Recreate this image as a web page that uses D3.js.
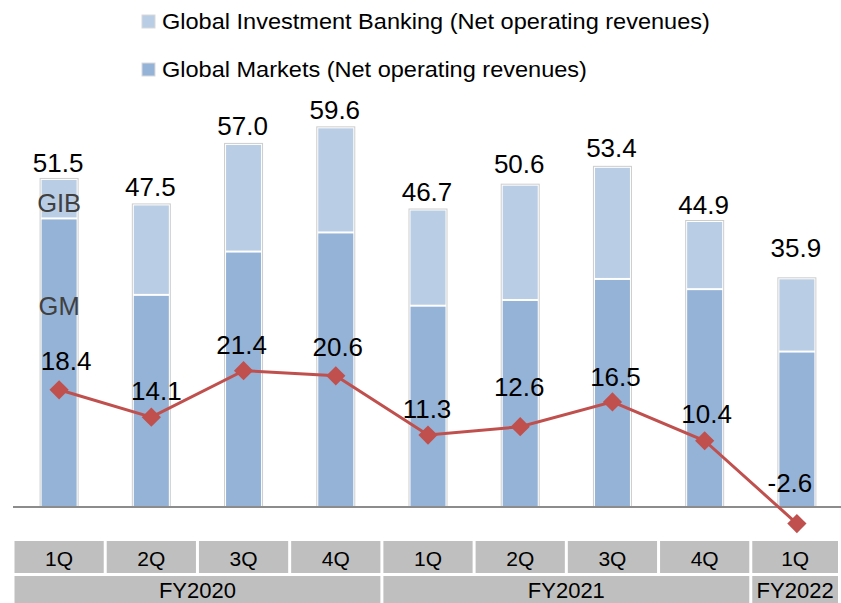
<!DOCTYPE html>
<html>
<head>
<meta charset="utf-8">
<script src="https://cdn.jsdelivr.net/npm/d3@7/dist/d3.min.js"></script>
<style>
	body { margin: 0; background: #fff; }
	svg { display: block; font-family: "Liberation Sans", Arial, sans-serif; }
</style>
</head>
<body>
<svg id="chart"></svg>
<script>
// Chart data.
var quarters = ["1Q", "2Q", "3Q", "4Q", "1Q", "2Q", "3Q", "4Q", "1Q"];
var fiscalYears = [{"label" : "FY2020", "from" : 0, "to" : 3},
	{"label" : "FY2021", "from" : 4, "to" : 7},
	{"label" : "FY2022", "from" : 8, "to" : 8}];
var totalRevenues = [51.5, 47.5, 57.0, 59.6, 46.7, 50.6, 53.4, 44.9, 35.9];
var gmRevenues = [45.3, 33.3, 40.1, 43.1, 31.6, 32.5, 35.8, 34.2, 24.4];
var lineValues = [18.4, 14.1, 21.4, 20.6, 11.3, 12.6, 16.5, 10.4, -2.6];
var legendLabels = ["Global Investment Banking (Net operating revenues)",
	"Global Markets (Net operating revenues)"];

// Hand placed label nudges (the original labels are not all at the same offset).
var totalLabelDy = [-7, -8, -9, -8, -9, -12, -10, -7, -21];
var lineLabelDx = [7, 5, -2, 2, -1, -1, 3, 2, -7];
var lineLabelDy = [-20, -17, -17, -20, -17, -31, -16, -18, -32];

// Definitions.
var width = 841;
var height = 603;
var barWidth = 38;
var colorGib = "#b9cde5";
var colorGm = "#95b3d7";
var colorLine = "#c0504d";
var colorCell = "#bfbfbf";

var svg = d3.select("#chart")
	.attr("width", width)
	.attr("height", height);

var x = d3.scaleBand()
	.domain(d3.range(quarters.length))
	.range([13, 843])
	.padding(0);
var y = d3.scaleLinear()
	.domain([0, 60])
	.range([507, 507 - 60 * 6.37]);
var cx = function(i) { return x(i) + x.bandwidth() / 2; };

// Stacked bars.
var bars = svg.append("g").selectAll("g")
	.data(d3.range(quarters.length))
	.enter()
	.append("g");
bars.append("rect")
	.attr("x", function(i) { return cx(i) - barWidth / 2; })
	.attr("y", function(i) { return y(totalRevenues[i]) - 0.5; })
	.attr("width", barWidth)
	.attr("height", function(i) { return y(0) - y(totalRevenues[i]) + 0.5; })
	.attr("fill", "#fff")
	.attr("stroke", "#cdcdcd")
	.attr("stroke-width", 1);
bars.append("rect")
	.attr("x", function(i) { return cx(i) - barWidth / 2 + 1.5; })
	.attr("y", function(i) { return y(gmRevenues[i]) + 1; })
	.attr("width", barWidth - 3)
	.attr("height", function(i) { return y(0) - y(gmRevenues[i]) - 1; })
	.attr("fill", colorGm);
bars.append("rect")
	.attr("x", function(i) { return cx(i) - barWidth / 2 + 1.5; })
	.attr("y", function(i) { return y(totalRevenues[i]) + 1; })
	.attr("width", barWidth - 3)
	.attr("height", function(i) { return y(gmRevenues[i]) - y(totalRevenues[i]) - 2; })
	.attr("fill", colorGib);

// Zero line.
svg.append("line")
	.attr("x1", 13)
	.attr("x2", width)
	.attr("y1", y(0))
	.attr("y2", y(0))
	.attr("stroke", "#8c8c8c")
	.attr("stroke-width", 2);

// Total labels.
svg.append("g").selectAll("text")
	.data(d3.range(quarters.length))
	.enter()
	.append("text")
	.attr("x", function(i) { return cx(i) - 1; })
	.attr("y", function(i) { return y(totalRevenues[i]) + totalLabelDy[i]; })
	.attr("text-anchor", "middle")
	.attr("font-size", 26)
	.attr("fill", "#000")
	.text(function(i) { return totalRevenues[i].toFixed(1); });

// Segment names on the first bar.
svg.append("text")
	.attr("x", cx(0))
	.attr("y", y(totalRevenues[0]) + 33)
	.attr("text-anchor", "middle")
	.attr("font-size", 25.5)
	.attr("fill", "#404040")
	.text("GIB");
svg.append("text")
	.attr("x", cx(0))
	.attr("y", y(gmRevenues[0]) + 97)
	.attr("text-anchor", "middle")
	.attr("font-size", 25.5)
	.attr("fill", "#404040")
	.text("GM");

// Line with diamond markers.
var line = d3.line()
	.x(function(i) { return cx(i); })
	.y(function(i) { return y(lineValues[i]); });
svg.append("path")
	.datum(d3.range(lineValues.length))
	.attr("d", line)
	.attr("fill", "none")
	.attr("stroke", colorLine)
	.attr("stroke-width", 3);
svg.append("g").selectAll("path")
	.data(d3.range(lineValues.length))
	.enter()
	.append("path")
	.attr("d", d3.symbol().type(d3.symbolSquare).size(185))
	.attr("transform", function(i) { return "translate(" + cx(i) + "," + y(lineValues[i]) + ") rotate(45)"; })
	.attr("fill", colorLine);
svg.append("g").selectAll("text")
	.data(d3.range(lineValues.length))
	.enter()
	.append("text")
	.attr("x", function(i) { return cx(i) + lineLabelDx[i]; })
	.attr("y", function(i) { return y(lineValues[i]) + lineLabelDy[i]; })
	.attr("text-anchor", "middle")
	.attr("font-size", 26)
	.attr("fill", "#000")
	.text(function(i) { return lineValues[i].toFixed(1); });

// Category table.
var cellRight = function(i) { return Math.min(x(i) + x.bandwidth() - 1.5, 838); };
svg.append("g").selectAll("rect")
	.data(d3.range(quarters.length))
	.enter()
	.append("rect")
	.attr("x", function(i) { return x(i) + 1.5; })
	.attr("y", 541)
	.attr("width", function(i) { return cellRight(i) - x(i) - 1.5; })
	.attr("height", 32)
	.attr("fill", colorCell);
svg.append("g").selectAll("text")
	.data(d3.range(quarters.length))
	.enter()
	.append("text")
	.attr("x", function(i) { return (x(i) + 1.5 + cellRight(i)) / 2; })
	.attr("y", 566)
	.attr("text-anchor", "middle")
	.attr("font-size", 21)
	.attr("fill", "#000")
	.text(function(i) { return quarters[i]; });

var years = svg.append("g").selectAll("g")
	.data(fiscalYears)
	.enter()
	.append("g");
years.append("rect")
	.attr("x", function(d) { return x(d.from) + 1.5; })
	.attr("y", 576)
	.attr("width", function(d) { return cellRight(d.to) - x(d.from) - 1.5; })
	.attr("height", 30)
	.attr("fill", colorCell);
years.append("text")
	.attr("x", function(d) { return (x(d.from) + 1.5 + cellRight(d.to)) / 2; })
	.attr("y", 598)
	.attr("text-anchor", "middle")
	.attr("font-size", 22)
	.attr("fill", "#000")
	.text(function(d) { return d.label; });

// Legend.
var legend = svg.append("g").selectAll("g")
	.data(legendLabels)
	.enter()
	.append("g")
	.attr("transform", function(d, i) { return "translate(142," + (15 + i * 48) + ")"; });
legend.append("rect")
	.attr("width", 13)
	.attr("height", 13)
	.attr("fill", function(d, i) { return i == 0 ? colorGib : colorGm; })
	.attr("stroke", "#d9d9d9")
	.attr("stroke-width", 1);
legend.append("text")
	.attr("transform", "translate(20,13.5) scale(1.07,1)")
	.attr("font-size", 22)
	.attr("fill", "#000")
	.text(function(d) { return d; });
</script>
</body>
</html>
